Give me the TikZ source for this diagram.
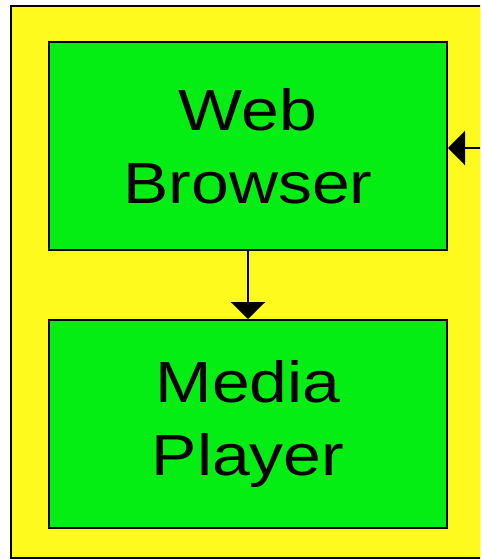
\documentclass[tikz,border=0pt]{standalone}
\usepackage{fontspec}
\setmainfont{Liberation Sans}
\newfontfamily\boxfont[FakeStretch=1.17]{Liberation Sans}
\usetikzlibrary{arrows.meta, positioning}
\definecolor{frameyellow}{RGB}{255,250,30}
\definecolor{boxgreen}{RGB}{5,238,20}

\begin{document}
\begin{tikzpicture}[x=1pt, y=-1pt]
\tikzstyle{every node}=[font=\boxfont\fontsize{58}{73}\selectfont]
\tikzstyle{appbox}=[draw, line width=2pt, fill=boxgreen, align=center,
                    minimum width=398pt, minimum height=208pt, inner sep=0pt]
\tikzstyle{flow}=[line width=2.5pt, -{Triangle[length=17pt, width=34pt]}]

\useasboundingbox (0, 0) rectangle (480, 560);
\clip (0, 0) rectangle (480, 560);

\draw[fill=frameyellow, line width=2.5pt] (11, 6) rectangle (500, 558); % client

\node[appbox] (browser) at (248, 146) {Web\\Browser};
\node[appbox, below=68pt of browser] (player) {Media\\Player};

\coordinate (feed) at (482, 148);
\draw[flow] (feed) -- (feed -| browser.east);
\draw[flow] (browser) -- (player);
\end{tikzpicture}
\end{document}
